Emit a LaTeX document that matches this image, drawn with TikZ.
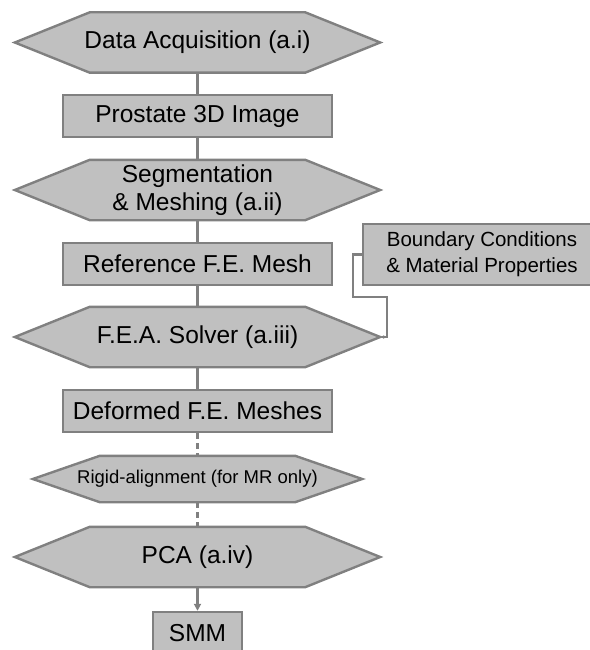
\documentclass[tikz,border=0pt]{standalone}
\usepackage{fontspec}
\setmainfont{Liberation Sans}
\usetikzlibrary{arrows.meta,backgrounds}
\definecolor{boxfill}{RGB}{192,192,192}
\definecolor{boxline}{RGB}{128,128,128}
\begin{document}
\begin{tikzpicture}[x=1pt,y=-1pt,
  stepbox/.style={draw=boxline,fill=boxfill,line width=2.4pt,inner sep=0pt,
    minimum width=269pt,minimum height=42pt,font=\fontsize{24.5}{28}\selectfont},
  stage/.style={inner sep=0pt,align=center,
    minimum width=365pt,minimum height=60pt,font=\fontsize{24.5}{28}\selectfont},
  hexline/.style={draw=boxline,fill=boxfill,line width=2.4pt,line join=miter},
  link/.style={draw=boxline,line width=2.4pt}]
  \useasboundingbox (0,0) rectangle (589,650);

  \node[stage] (acq) at (197.5,42.5) {Data Acquisition (a.i)};
  \node[stepbox] (img) at (197.5,116) {Prostate 3D Image};
  \node[stage] (seg) at (197.5,190) {Segmentation\\\& Meshing (a.ii)};
  \node[stepbox] (ref) at (197.5,264) {Reference F.E. Mesh};
  \node[stage] (fea) at (197.5,337) {F.E.A. Solver (a.iii)};
  \node[stepbox] (def) at (197.5,411) {Deformed F.E. Meshes};
  \node[stage,minimum width=329pt,minimum height=46pt,
    font=\fontsize{18.5}{22}\selectfont] (rig) at (197.5,479) {Rigid-alignment (for MR only)};
  \node[stage] (pca) at (197.5,557) {PCA (a.iv)};
  \node[stepbox,minimum width=89pt] (smm) at (197.5,633) {SMM};
  \node[stepbox,minimum width=238pt,minimum height=61pt,align=center,
    font=\fontsize{20.5}{26}\selectfont] (bc) at (482,254.5) {Boundary Conditions\\\& Material Properties};

  % hexagon outlines behind the stage nodes
  \begin{scope}[on background layer]
   \foreach \n/\d in {acq/75,seg/75,fea/75,rig/67,pca/75} {
    \filldraw[hexline] (\n.west) -- ([xshift=\d pt]\n.north west) -- ([xshift=-\d pt]\n.north east)
      -- (\n.east) -- ([xshift=-\d pt]\n.south east) -- ([xshift=\d pt]\n.south west) -- cycle;
   }
  \end{scope}

  \foreach \a/\b in {acq/img,img/seg,seg/ref,ref/fea,fea/def} {
   \draw[link] (\a.south) -- (\b.north);
  }
  \foreach \a/\b in {def/rig,rig/pca} {
   \draw[link,dash pattern=on 6pt off 4pt] (\a.south) -- (\b.north);
  }
  \draw[link,-{Triangle[length=7pt,width=7pt]}] (pca.south) -- (smm.north);

  \coordinate (jog) at (387,297);
  \draw[link,-{Latex[length=4pt,width=4pt]}] (bc.west) -- ++(-9,0) |- (jog) |- (fea.east);
\end{tikzpicture}
\end{document}
